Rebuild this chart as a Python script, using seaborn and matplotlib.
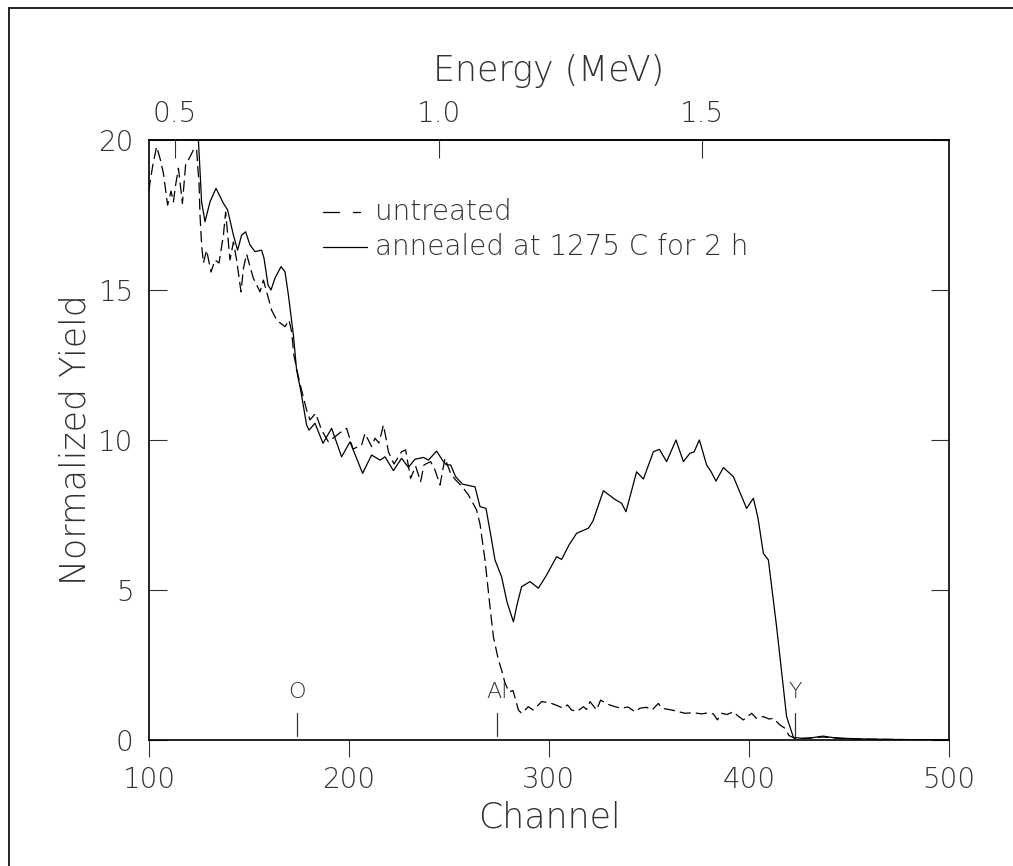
import numpy as np
import matplotlib
matplotlib.use("Agg")
import matplotlib.pyplot as plt
from matplotlib.lines import Line2D
import seaborn as sns

# annealed at 1275 C for 2 h (solid curve)
channel_annealed = [123.5, 124.7, 126.3, 128.0, 130.5, 133.5, 137.2, 139.3, 142.2, 144.3,
                    146.3, 148.3, 150.5, 153.0, 156.3, 157.5, 159.5, 161.0, 163.0, 166.0,
                    168.0, 169.7, 172.2, 173.8, 176.0, 178.8, 180.0, 183.0, 187.0, 191.3,
                    196.3, 200.5, 206.8, 211.3, 215.5, 218.0, 222.2, 226.3, 229.7, 233.0,
                    237.2, 239.7, 243.8, 247.2, 248.8, 250.8, 253.3, 256.7, 260.8, 263.0,
                    265.5, 268.5, 271.3, 273.0, 276.3, 279.0, 282.2, 284.0, 286.3, 290.5,
                    294.7, 298.8, 303.8, 306.3, 310.0, 313.8, 319.7, 322.0, 327.2, 333.0,
                    336.3, 338.5, 343.8, 347.2, 352.2, 355.2, 358.8, 363.5, 367.2, 370.5,
                    372.5, 375.2, 378.8, 381.0, 383.5, 387.2, 392.2, 398.8, 402.2, 404.5,
                    407.2, 409.7, 413.8, 418.8, 422.2, 427.0, 432.0, 437.0, 442.0, 450.0,
                    460.0, 470.0, 480.0, 490.0, 500.0]
yield_annealed = [21.0, 20.0, 17.94, 17.28, 17.94, 18.39, 17.89, 17.67, 16.83, 16.33,
                  16.83, 16.94, 16.5, 16.28, 16.33, 16.06, 15.17, 15.0, 15.4, 15.78,
                  15.61, 14.83, 13.5, 12.33, 11.6, 10.5, 10.33, 10.56, 9.89, 10.39,
                  9.44, 9.94, 8.89, 9.5, 9.33, 9.44, 8.98, 9.39, 9.09, 9.36,
                  9.42, 9.33, 9.63, 9.28, 9.17, 9.17, 8.78, 8.53, 8.47, 8.44,
                  7.78, 7.72, 6.67, 6.0, 5.44, 4.6, 3.94, 4.5, 5.11, 5.28,
                  5.06, 5.5, 6.11, 6.02, 6.5, 6.89, 7.06, 7.3, 8.31, 8.02,
                  7.89, 7.61, 8.94, 8.70, 9.61, 9.69, 9.28, 10.0, 9.28, 9.56,
                  9.6, 10.0, 9.17, 8.95, 8.63, 9.08, 8.78, 7.72, 8.06, 7.4,
                  6.22, 6.0, 3.78, 0.78, 0.09, 0.05, 0.08, 0.13, 0.08, 0.05,
                  0.03, 0.02, 0.01, 0.01, 0.01]

# untreated (dashed curve)
channel_untreated = [100.0, 100.5, 102.0, 103.8, 105.5, 107.2, 109.3, 111.0, 112.2, 113.3,
                     114.7, 116.7, 118.3, 120.5, 122.2, 123.8, 124.3, 125.0, 125.5, 126.3,
                     127.2, 128.8, 131.0, 133.0, 135.0, 137.2, 138.3, 140.5, 142.2, 143.8,
                     146.0, 147.2, 148.8, 150.5, 152.2, 155.5, 157.2, 159.0, 161.3, 163.8,
                     165.8, 168.0, 170.0, 171.3, 172.5, 174.7, 176.5, 178.8, 180.5, 183.3,
                     186.3, 189.7, 193.0, 197.2, 198.8, 202.0, 206.3, 208.0, 211.3, 213.0,
                     215.0, 217.2, 218.5, 219.7, 222.5, 226.3, 228.3, 230.8, 233.3, 235.8,
                     237.5, 240.8, 243.0, 245.5, 248.0, 250.8, 253.3, 256.5, 259.7, 263.8,
                     265.5, 268.0, 270.5, 272.2, 274.7, 276.3, 278.0, 280.0, 282.0, 284.7,
                     286.3, 289.7, 292.0, 294.7, 296.3, 300.5, 304.0, 307.2, 309.2, 311.3,
                     314.0, 317.2, 318.8, 320.5, 323.8, 325.8, 329.0, 333.0, 336.3, 339.5,
                     343.0, 345.5, 348.8, 351.5, 354.7, 356.3, 361.3, 364.5, 368.0, 372.2,
                     376.3, 379.0, 382.2, 384.2, 386.3, 389.0, 392.2, 394.5, 397.2, 401.3,
                     403.8, 407.2, 410.0, 412.2, 415.5, 418.0, 420.0, 423.0, 430.0, 437.0,
                     445.0, 455.0, 470.0, 485.0, 500.0]
yield_untreated = [18.3, 18.6, 19.2, 19.78, 19.39, 18.89, 17.83, 18.3, 17.94, 18.5,
                   19.06, 17.89, 19.17, 19.44, 19.67, 19.72, 19.17, 18.6, 17.5, 16.5,
                   15.9, 16.33, 15.6, 16.0, 15.9, 16.83, 17.6, 16.0, 16.6, 16.0,
                   14.94, 15.72, 16.2, 15.78, 15.39, 14.94, 15.33, 14.9, 14.33, 14.0,
                   13.89, 13.78, 14.0, 13.61, 12.8, 12.11, 11.6, 11.0, 10.67, 10.89,
                   10.33, 9.94, 10.11, 10.33, 10.39, 9.7, 9.83, 10.22, 9.78, 10.06,
                   9.9, 10.5, 10.06, 9.61, 9.2, 9.61, 9.67, 8.72, 9.13, 8.61,
                   9.17, 9.28, 9.0, 8.5, 9.39, 8.89, 8.67, 8.45, 8.17, 7.67,
                   7.2, 6.0, 4.44, 3.44, 2.67, 2.33, 1.9, 1.6, 1.65, 1.0,
                   0.89, 1.11, 1.0, 1.17, 1.28, 1.24, 1.15, 1.06, 1.17, 1.0,
                   0.95, 1.11, 1.02, 1.28, 1.0, 1.33, 1.2, 1.11, 1.06, 1.1,
                   0.94, 1.06, 1.09, 1.0, 1.22, 1.06, 1.0, 0.95, 0.89, 0.91,
                   0.87, 0.9, 0.87, 0.67, 0.89, 0.85, 0.94, 0.8, 0.67, 0.89,
                   0.72, 0.78, 0.7, 0.72, 0.5, 0.39, 0.15, 0.05, 0.06, 0.1,
                   0.05, 0.03, 0.02, 0.01, 0.01]

# surface edge markers
element_names = ["O", "Al", "Y"]
element_channels = [174, 274, 423]

energy_ticks = [0.5, 1.0, 1.5]
channel_ticks = [100, 200, 300, 400, 500]
yield_ticks = [0, 5, 10, 15, 20]

# linear energy calibration
E0, DE = 0.0715, 0.003792


def ch2e(ch):
    return E0 + DE * np.asarray(ch)


def e2ch(e):
    return (np.asarray(e) - E0) / DE


sns.set_theme(style="ticks")
plt.rcParams["font.family"] = ["DejaVu Sans"]
plt.rcParams["font.weight"] = "light"
plt.rcParams["axes.labelweight"] = "light"
TXT = "#333333"

fig, ax = plt.subplots(figsize=(10.13, 8.66), dpi=100)
fig.subplots_adjust(left=0.1471, right=0.9368, bottom=0.1455, top=0.8383)

sns.lineplot(x=channel_untreated, y=yield_untreated, ax=ax, color="black",
             linewidth=0.9, linestyle=(0, (9, 4)), sort=False, estimator=None)
sns.lineplot(x=channel_annealed, y=yield_annealed, ax=ax, color="black",
             linewidth=0.9, sort=False, estimator=None)

ax.set_xlim(100, 500)
ax.set_ylim(0, 20)
ax.set_xticks(channel_ticks)
ax.set_yticks(yield_ticks)

for s in ax.spines.values():
    s.set_linewidth(1.2)
    s.set_color("black")

ax.tick_params(axis="x", direction="out", length=12, width=0.8, pad=7,
               labelsize=20, colors=TXT, top=False)
ax.tick_params(axis="y", direction="in", length=13, width=0.8, pad=11,
               labelsize=20, colors=TXT, left=True, right=True)

ax.set_xlabel("Channel", fontsize=25, color=TXT, va="center", fontweight="light")
ax.xaxis.set_label_coords(0.5, -0.13)
ax.set_ylabel("Normalized Yield", fontsize=25, color=TXT, va="center", fontweight="light")
ax.yaxis.set_label_coords(-0.0925, 0.5)

secax = ax.secondary_xaxis("top", functions=(ch2e, e2ch))
secax.set_xticks(energy_ticks)
secax.set_xticklabels([f"{e:.1f}" for e in energy_ticks])
secax.tick_params(direction="in", length=13, width=0.8, pad=9, labelsize=20,
                  colors=TXT)
ax.text(0.5, 1.115, "Energy (MeV)", transform=ax.transAxes, ha="center", va="center",
        fontsize=25, color=TXT, fontweight="light")

# element edge markers
for name, ch in zip(element_names, element_channels):
    ax.plot([ch, ch], [0.13, 0.9], color=TXT, linewidth=0.9)
    ax.text(ch, 1.6, name, ha="center", va="center", fontsize=16, color=TXT)

# hand drawn legend
ax.plot([187, 195], [17.6, 17.6], color="black", linewidth=0.9)
ax.plot([202, 205.5], [17.6, 17.6], color="black", linewidth=0.9)
ax.text(213, 17.6, "untreated", ha="left", va="center", fontsize=20, color=TXT)
ax.plot([187, 209], [16.45, 16.45], color="black", linewidth=0.9)
ax.text(213, 16.45, "annealed at 1275 C for 2 h", ha="left", va="center",
        fontsize=20, color=TXT)

# partial frame around the figure
fig.add_artist(Line2D([9 / 1013, 9 / 1013], [0, 1 - 8 / 866], color="black", linewidth=1.2))
fig.add_artist(Line2D([9 / 1013, 1], [1 - 8 / 866, 1 - 8 / 866], color="black", linewidth=1.2))

fig.savefig("out.png", dpi=100)
